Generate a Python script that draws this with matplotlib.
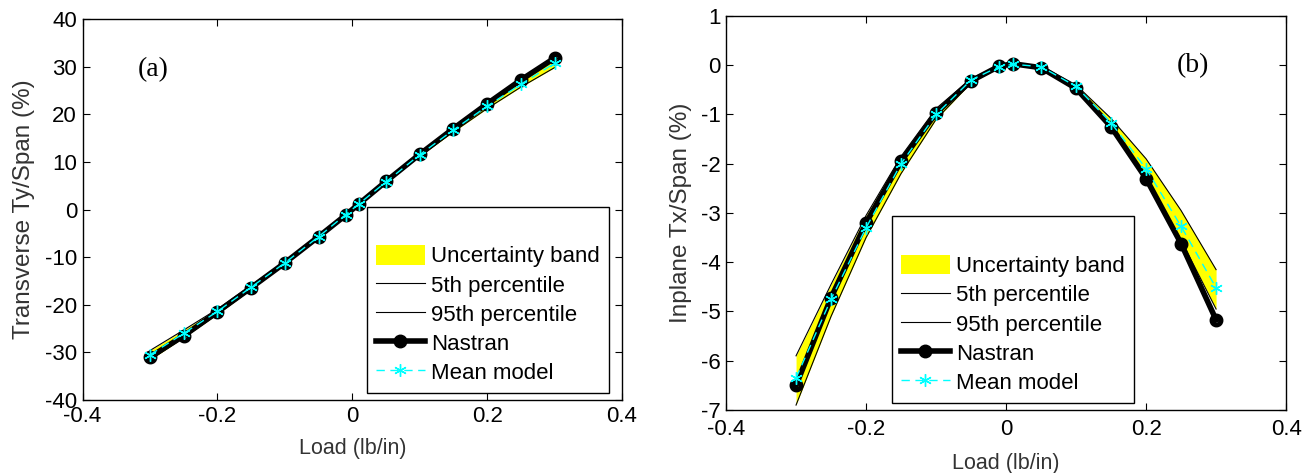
import matplotlib
matplotlib.use("Agg")
import matplotlib.pyplot as plt
from matplotlib.patches import Patch
from matplotlib.lines import Line2D

plt.rcParams['font.family'] = ['Liberation Sans', 'DejaVu Sans']
plt.rcParams['axes.unicode_minus'] = False

load = [-0.3, -0.25, -0.2, -0.15, -0.1, -0.05, -0.01, 0.01, 0.05, 0.1, 0.15, 0.2, 0.25, 0.3]

# Panel (a): transverse Ty/Span (%)
ty_nastran = [-31.0, -26.5, -21.5, -16.4, -11.2, -5.7, -1.2, 1.2, 5.9, 11.6, 17.0, 22.2, 27.2, 31.8]
ty_mean = [-30.5, -26.0, -21.4, -16.3, -11.2, -5.7, -1.1, 1.2, 5.8, 11.5, 16.7, 21.7, 26.3, 30.7]
ty_p5 = [-31.6, -26.9, -22.0, -16.8, -11.5, -5.9, -1.3, 1.0, 5.6, 11.2, 16.3, 21.2, 25.7, 29.8]
ty_p95 = [-29.6, -25.3, -20.9, -15.9, -10.9, -5.5, -0.9, 1.4, 6.0, 11.8, 17.2, 22.4, 27.3, 31.6]

# Panel (b): inplane Tx/Span (%)
tx_nastran = [-6.5, -4.72, -3.2, -1.95, -0.97, -0.32, -0.02, 0.03, -0.05, -0.47, -1.25, -2.3, -3.62, -5.17]
tx_mean = [-6.35, -4.75, -3.3, -2.0, -1.0, -0.3, -0.03, 0.02, -0.03, -0.43, -1.17, -2.1, -3.27, -4.52]
tx_p5 = [-6.9, -5.1, -3.5, -2.2, -1.1, -0.36, -0.05, 0.0, -0.06, -0.48, -1.27, -2.3, -3.55, -4.95]
tx_p95 = [-5.9, -4.45, -3.05, -1.85, -0.88, -0.27, 0.0, 0.04, -0.01, -0.4, -1.08, -1.9, -2.95, -4.15]

fig = plt.figure(figsize=(13.07, 4.73), dpi=100)
ax1 = fig.add_axes([0.0632, 0.1543, 0.4127, 0.8055])
ax2 = fig.add_axes([0.5555, 0.1332, 0.4285, 0.833])

ASTER = (6, 2, 0)
LABEL_COLOR = '#333333'


def draw(ax, nas, mean, p5, p95, tickpad, xlabelpad):
    ax.fill_between(load, p5, p95, color='yellow', linewidth=0, zorder=1)
    ax.plot(load, p5, color='black', linewidth=0.8, zorder=2)
    ax.plot(load, p95, color='black', linewidth=0.8, zorder=2)
    ax.plot(load, nas, color='black', linewidth=4, marker='o', markersize=6.5,
            markerfacecolor='none', markeredgecolor='black', markeredgewidth=3.5, zorder=3)
    ax.plot(load, mean, color='cyan', linewidth=1, linestyle=(0, (6, 4)), marker=ASTER,
            markersize=9, markeredgewidth=1.0, zorder=4)
    ax.set_xlim(-0.4, 0.4)
    ax.set_xticks([-0.4, -0.2, 0, 0.2, 0.4])
    ax.set_xticklabels(['-0.4', '-0.2', '0', '0.2', '0.4'])
    ax.tick_params(direction='in', top=True, right=True, labelsize=16, length=5, width=0.8,
                   pad=4)
    ax.tick_params(axis='x', pad=tickpad)
    for s in ax.spines.values():
        s.set_linewidth(1.0)
    ax.set_xlabel('Load (lb/in)', fontsize=15.5, color=LABEL_COLOR, labelpad=xlabelpad)

    handles = [
        Patch(facecolor='none', edgecolor='none', label=' '),
        Patch(facecolor='yellow', edgecolor='none', label='Uncertainty band'),
        Line2D([], [], color='black', linewidth=0.8, label='5th percentile'),
        Line2D([], [], color='black', linewidth=0.8, label='95th percentile'),
        Line2D([], [], color='black', linewidth=4, marker='o', markersize=9,
               markerfacecolor='black', label='Nastran'),
        Line2D([], [], color='cyan', linewidth=1, linestyle=(0, (6, 4)), marker=ASTER,
               markersize=9, label='Mean model'),
    ]
    return handles


LEG_KW = dict(fontsize=16, frameon=True, fancybox=False, edgecolor='black', handlelength=2.2,
              handleheight=1.0, handletextpad=0.3, labelspacing=0.3, borderpad=0.4,
              borderaxespad=0, framealpha=1)

h = draw(ax1, ty_nastran, ty_mean, ty_p5, ty_p95, tickpad=4, xlabelpad=8)
ax1.set_ylim(-40, 40)
ax1.set_yticks(range(-40, 41, 10))
ax1.set_ylabel('Transverse Ty/Span (%)', fontsize=17.5, color=LABEL_COLOR, labelpad=7)
ax1.text(-0.318, 29.3, '(a)', fontsize=20, family='Liberation Serif', ha='left', va='center')
leg1 = ax1.legend(handles=h, loc='lower right', bbox_to_anchor=(0.976, 0.018), **LEG_KW)
leg1.get_frame().set_linewidth(1.0)

h = draw(ax2, tx_nastran, tx_mean, tx_p5, tx_p95, tickpad=6.5, xlabelpad=9)
ax2.set_ylim(-7, 1)
ax2.set_yticks(range(-7, 2))
ax2.set_ylabel('Inplane Tx/Span (%)', fontsize=17.5, color=LABEL_COLOR, labelpad=6)
ax2.text(0.244, -0.015, '(b)', fontsize=20, family='Liberation Serif', ha='left', va='center')
leg2 = ax2.legend(handles=h, loc='lower left', bbox_to_anchor=(0.296, 0.018), **LEG_KW)
leg2.get_frame().set_linewidth(1.0)

fig.savefig('out.png', dpi=100)
